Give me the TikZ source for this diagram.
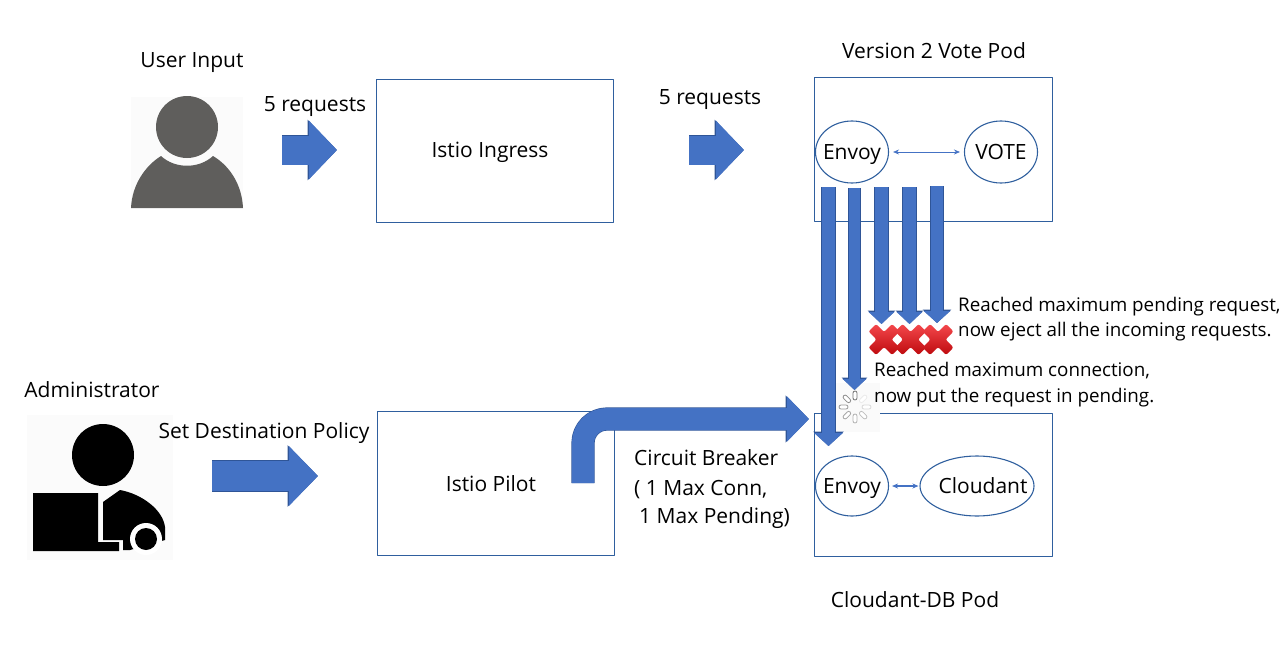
\documentclass[tikz,border=0pt]{standalone}
\usepackage{fontspec}
\setmainfont{Open Sans}
\usetikzlibrary{arrows.meta,shapes.geometric}
\definecolor{flowblue}{HTML}{4472C4}
\definecolor{flowedge}{HTML}{2F5597}
\definecolor{boxline}{HTML}{2F5F9E}
\definecolor{usergray}{HTML}{5F5E5C}
\definecolor{crosstop}{HTML}{F4484C}
\definecolor{crossbot}{HTML}{BE0A0E}
\tikzset{
  lbl/.style={inner sep=0pt, text height=16pt, text depth=2pt, font=\fontsize{21}{24}\selectfont},
  notelbl/.style={lbl, anchor=west, font=\fontsize{18.8}{24}\selectfont},
  podbox/.style={draw=boxline, line width=1pt, rectangle},
  svc/.style={draw=boxline, line width=1.1pt, ellipse, inner sep=0pt},
  thinlink/.style={{Stealth[length=6pt,width=5pt]}-{Stealth[length=6pt,width=5pt]}, draw=flowblue, line width=#1},
  flow/.style n args={3}{draw=flowblue, line width=#1pt, -{Triangle[length=#2pt,width=#3pt,fill=flowblue]},
    preaction={draw=flowedge, line width=#1pt+1.2pt, -{Triangle[length=#2pt+1.5pt,width=#3pt+2pt,fill=flowedge]}}},
  redcross/.pic={
    \path[top color=crosstop, bottom color=crossbot, rounded corners=2pt]
      (-15.5,-8) -- (-8,-15.5) -- (0,-7.5) -- (8,-15.5) -- (15.5,-8) -- (7.5,0) -- (15.5,8)
      -- (8,15.5) -- (0,7.5) -- (-8,15.5) -- (-15.5,8) -- (-7.5,0) -- cycle;
  }
}
\begin{document}
\begin{tikzpicture}[x=1pt, y=-1pt, line join=round]
    \useasboundingbox (0,0) rectangle (1280,645);

    \fill[black!1.5] (131,97) rectangle (243,208);
    \fill[usergray] (187,127) circle (31);
    \fill[usergray] (131,208) .. controls (132,185) and (145,166) .. (161,156)
      .. controls (175,169) and (199,169) .. (213,156)
      .. controls (230,166) and (242,185) .. (243,208) -- cycle;

    \fill[black!1.5] (27,415) rectangle (173,560);
    \fill[black] (103,455) circle (31);
    \fill[black] (33,493) -- (98,493) -- (98,542) -- (119,542) -- (119,551) -- (33,551) -- cycle;
    \fill[black] (103,502) -- (120,490) .. controls (142,494) and (163,510) .. (165,527)
      -- (165,540) -- (130,550) -- (123,550) -- (123,540) -- (103,540) -- cycle;
    \fill[white] (146,539) circle (16);
    \fill[black] (146,539) circle (11);

    \node[lbl] (userlbl) at (192,60) {User Input};
    \node[lbl] (adminlbl) at (92,390) {Administrator};
    \node[lbl] (reqlbla) at (315,104) {5 requests};
    \node[lbl] (reqlblb) at (710,97) {5 requests};
    \node[lbl] (policylbl) at (264,431) {Set Destination Policy};
    \node[lbl] (votelbl) at (934,51) {Version 2 Vote Pod};
    \node[lbl] (dblbl) at (915,600) {Cloudant-DB Pod};

    \node[podbox, minimum width=237pt, minimum height=143pt] (ingress) at (494.7,150.5) {};
    \node[podbox, minimum width=237pt, minimum height=144pt] (pilot) at (495.7,483) {};
    \node[podbox, minimum width=238pt, minimum height=144pt] (votepod) at (933,149) {};
    \node[podbox, minimum width=238pt, minimum height=143pt] (dbpod) at (933,484.5) {};
    \node[lbl] (ingresslbl) at (490,150) {Istio Ingress};
    \node[lbl] (pilotlbl) at (491,484) {Istio Pilot};

    \node[svc, minimum width=73pt, minimum height=62pt] (envoya) at (852,152) {};
    \node[svc, minimum width=73pt, minimum height=62pt] (vote) at (1001,152) {};
    \node[svc, minimum width=73pt, minimum height=60pt] (envoyb) at (852,486) {};
    \node[svc, minimum width=114pt, minimum height=60pt] (cloudant) at (977,486) {};
    \node[lbl] (envoyalbl) at (852,152) {Envoy};
    \node[lbl] (votetxt) at (1001,152) {VOTE};
    \node[lbl] (envoyblbl) at (852,486) {Envoy};
    \node[lbl] (cloudantlbl) at (983,486) {Cloudant};
    \draw[thinlink=0.8pt, shorten <=4pt, shorten >=4pt] (envoya) -- (vote);
    \draw[thinlink=1.4pt, shorten <=3pt, shorten >=1pt] (envoyb) -- (cloudant);

    \coordinate (userout) at (282,150);
    \coordinate (ingressin) at (337,150);
    \coordinate (ingressout) at (689,150);
    \coordinate (votein) at (744,150);
    \coordinate (adminout) at (212,476);
    \coordinate (pilotin) at (318,476);
    \draw[flow={29}{28}{57}] (userout) -- (ingressin);
    \draw[flow={29}{28}{57}] (ingressout) -- (votein);
    \draw[flow={30}{29}{58}] (adminout) -- (pilotin);

    \coordinate (pilotout) at (583,483);
    \coordinate (bendpt) at (583,419);
    \coordinate (dbin) at (809,419);
    \draw[flow={22}{22}{44}, rounded corners=24pt] (pilotout) -- (bendpt) -- (dbin);

    \fill[black!2] (836,383) rectangle (880,432);
    \foreach \ang/\shd in {0/55,45/45,90/40,135/35,180/30,225/25,270/15,315/8}
      \draw[draw=black!\shd, fill=white, line width=0.8pt, rounded corners=2pt,
        rotate around={\ang:(855,407)}] (853,391) rectangle (857,400);

    \coordinate (flowa) at (828.5,187);
    \coordinate (flowb) at (854.5,188);
    \coordinate (flowc) at (881.5,187);
    \coordinate (flowd) at (909.5,187);
    \coordinate (flowe) at (937,186);
    \coordinate (enda) at (828.5,446);
    \coordinate (endb) at (854.5,390);
    \coordinate (endc) at (881.5,324);
    \coordinate (endd) at (909.5,324);
    \coordinate (ende) at (937,323);
    \draw[flow={13}{13}{28}] (flowa) -- (enda);
    \draw[flow={11}{11}{23}] (flowb) -- (endb);
    \draw[flow={13}{12}{25}] (flowc) -- (endc);
    \draw[flow={13}{12}{25}] (flowd) -- (endd);
    \draw[flow={12}{12}{26}] (flowe) -- (ende);

    \pic at (884,339.5) {redcross};
    \pic at (910.5,339.5) {redcross};
    \pic at (938,339.5) {redcross};

    \node[notelbl] (ejectlbla) at (958,304) {Reached maximum pending request,};
    \node[notelbl] (ejectlblb) at (958,329) {now eject all the incoming requests.};
    \node[notelbl] (pendlbla) at (874,369) {Reached maximum connection,};
    \node[notelbl] (pendlblb) at (874,395) {now put the request in pending.};
    \node[lbl, anchor=west] (cblbla) at (634,458) {Circuit Breaker};
    \node[lbl, anchor=west] (cblblb) at (634,488) {( 1 Max Conn,};
    \node[lbl, anchor=west] (cblblc) at (639,516) {1 Max Pending)};
\end{tikzpicture}
\end{document}
